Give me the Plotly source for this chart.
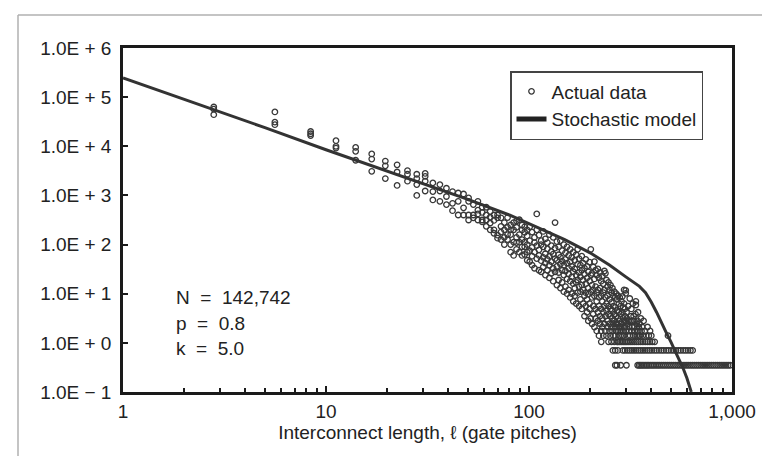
import plotly.graph_objects as go

FONT = "Liberation Sans, Arial, Helvetica, sans-serif"
FS = 19

# ---- Stochastic model curve ----
model_x = [1, 2, 3, 5, 10, 20, 30, 50, 80, 100, 150, 200, 250, 300, 350, 375, 400,
           425, 450, 475, 500, 525, 550, 575, 600, 615, 630]
model_y = [2.45e5, 9.1e4, 5.0e4, 2.4e4, 8.5e3, 3.1e3, 1.74e3, 830, 400, 263, 126, 68, 38,
           22, 14.1, 10.5, 6.8, 4.2, 2.5, 1.6, 1.05, 0.69, 0.47, 0.30, 0.19, 0.14, 0.1]

# ---- Actual data, short lengths: one column per length, several counts each ----
short_x = [2.8, 5.6, 8.4, 11.2, 14.0, 16.8, 19.6, 22.4, 25.2, 28.0, 30.8, 33.6, 36.4,
           39.2, 42.0, 44.8, 47.6, 50.4, 53.2, 56.0, 58.8, 61.6, 64.4, 67.2, 70.0, 72.8,
           75.6, 78.4, 81.2, 84.0, 86.8, 89.6, 92.4, 95.2, 98.0]
short_y = [
    [63000, 57000, 44000], [50000, 31000, 27500], [20000, 18000, 16500],
    [13000, 10000, 9200], [9500, 7900, 5200], [7000, 5500, 3100], [5000, 4000, 2200],
    [4200, 3000, 1600], [3200, 2700, 1950], [2700, 2200, 1660, 1000],
    [2800, 2450, 1950, 1230], [1800, 1200, 810], [1660, 1230, 760], [1400, 950, 650],
    [1200, 690, 490], [1120, 760, 400], [1070, 560, 400], [890, 760, 400, 316],
    [650, 400, 350], [760, 500, 420, 316], [575, 450, 316, 290], [575, 400, 316, 235],
    [470, 360, 275, 200], [400, 310, 200, 170], [400, 350, 155, 135],
    [350, 235, 180, 126], [280, 200, 140, 100], [355, 225, 160, 126],
    [250, 200, 160, 100, 70], [280, 200, 112, 60], [300, 225, 140, 110, 80],
    [320, 160, 112, 70], [250, 200, 126, 90, 60], [230, 178, 112, 90, 63],
    [200, 150, 100, 70, 48],
]

# ---- Actual data, mid lengths (dense cloud) ----
mid_x = [100.8, 103.6, 106.4, 109.2, 112.0, 114.8, 117.6, 120.4, 123.2, 126.0, 128.8,
         131.6, 134.4, 137.2, 140.0, 142.8, 145.6, 148.4, 151.2, 154.0, 156.8, 159.6,
         162.4, 165.2, 168.0, 170.8, 173.6, 176.4, 179.2, 182.0, 184.8, 187.6, 190.4,
         193.2, 196.0, 198.8, 201.6, 204.4, 207.2, 210.0, 212.8, 215.6, 218.4, 221.2,
         224.0, 226.8, 229.6, 232.4, 235.2, 238.0, 240.8, 243.6, 246.4, 249.2, 252.0,
         254.8, 257.6, 260.4, 263.2, 266.0, 268.8, 271.6, 274.4, 277.2, 280.0, 282.8,
         285.6, 288.4, 291.2, 294.0, 296.8, 299.6]
mid_y = [
    [230, 120, 75, 45], [180, 88, 58, 38], [140, 110, 70, 33], [420, 200, 95, 52],
    [155, 78, 60, 30], [120, 100, 47, 28], [185, 90, 55, 35], [130, 65, 42, 24],
    [110, 82, 50, 30], [160, 58, 38, 21], [95, 72, 45, 26], [140, 64, 33, 18],
    [280, 85, 52, 28], [115, 48, 36, 15], [90, 62, 27, 19], [120, 55, 40, 13],
    [75, 46, 30, 17], [100, 38, 24, 11], [68, 50, 29, 14], [90, 42, 20, 10],
    [60, 33, 25, 12], [80, 45, 18, 8.4], [55, 36, 22, 10], [70, 28, 16, 7.0],
    [48, 32, 13, 9.1], [62, 24, 17, 6.3], [80, 40, 19, 10.5], [52, 27, 14, 5.6],
    [38, 22, 11, 7.7], [58, 30, 15, 4.9], [42, 19, 12, 6.3], [33, 25, 9.1, 3.5],
    [50, 16, 10.5, 5.6], [36, 21, 7.7, 4.2], [28, 13, 9.8, 2.8], [44, 18, 6.3, 4.9],
    [80, 24, 11, 3.15], [26, 15, 8.4, 2.45], [35, 12, 5.6, 3.85], [45, 20, 9.1, 2.1],
    [30, 14, 4.9, 3.15], [24, 10.5, 7.0, 1.75], [32, 12, 4.2, 2.8], [21, 8.4, 5.6, 1.4],
    [27, 13, 3.5, 2.45], [18, 9.1, 4.9, 1.75], [23, 7.0, 3.15, 2.1], [16, 10.5, 4.2, 1.4],
    [29, 12, 5.6, 2.45], [26, 8.4, 3.5, 1.75], [19, 6.3, 4.55, 1.4], [14, 9.1, 2.8, 2.1],
    [17, 5.6, 3.85, 1.05], [12, 7.7, 2.45, 1.75], [15, 4.9, 3.5, 1.4],
    [10.5, 6.65, 2.1, 1.05], [13, 4.55, 3.15, 1.75], [9.1, 5.6, 2.45, 1.4],
    [11, 3.85, 2.8, 1.05], [8.4, 5.25, 2.1, 1.4], [10, 3.5, 2.45, 1.75],
    [7.7, 4.55, 2.45, 1.05], [9.1, 3.15, 1.75, 1.05], [6.3, 4.2, 2.1, 1.4],
    [8.4, 2.8, 1.75, 1.05], [5.6, 3.85, 2.1, 1.4], [7.0, 2.45, 1.75, 1.05],
    [8.8, 4.2, 2.1, 1.4], [5.25, 3.15, 1.75, 1.05], [12, 6.3, 2.8, 1.4],
    [4.9, 3.5, 2.1, 1.05], [11.7, 10.2, 2.8, 1.75],
]

# ---- Actual data, long lengths (sparse tail) ----
tail_x = [302.4, 303.8, 305.2, 306.6, 308.0, 309.4, 310.8, 312.2, 313.6, 315.0, 316.4,
          317.8, 319.2, 320.6, 322.0, 323.4, 324.8, 326.2, 327.6, 329.0, 330.4, 331.8,
          333.2, 334.6, 336.0, 336.0, 338.8, 340.2, 341.6, 343.0, 344.4, 345.8, 347.2,
          348.6, 350.0, 352.8, 355.6, 358.4, 361.2, 364.0, 366.8, 372.4, 378.0, 383.6,
          389.2, 394.8, 400.4, 484.0]
tail_y = [4.2, 3.15, 2.45, 1.4, 5.6, 2.8, 1.75, 2.1, 8.0, 1.4, 2.8, 3.5, 4.9, 1.75,
          2.1, 2.8, 6.3, 1.4, 3.5, 2.1, 2.8, 1.75, 1.4, 3.85, 7.0, 5.9, 2.45, 1.4, 1.75,
          2.8, 4.2, 1.75, 2.1, 1.4, 2.45, 1.4, 3.15, 1.75, 2.1, 1.4, 2.8, 1.75, 1.4, 2.1,
          1.4, 1.75, 1.4, 1.4]

# ---- Actual data: quantised low-count rows ----
row_035_x = [266, 271, 283, 302, 343, 349, 355, 361, 368, 375, 382, 389, 397, 405, 413,
             422, 431, 440, 450, 460, 470, 481, 492, 503, 515, 527, 540, 553, 566, 580,
             594, 608, 623, 638, 653, 669, 685, 702, 719, 736, 754, 772, 791, 810, 830,
             850, 871, 892, 913, 935, 957, 980]
row_070_x = [259, 266, 274, 290, 297, 305, 313, 321, 329, 337, 346, 355, 364, 373, 383,
             393, 403, 414, 425, 437, 449, 461, 474, 487, 501, 515, 529, 544, 559, 575,
             591, 607, 624, 640]
row_105_x = [227, 302, 308, 315, 322, 330, 338, 346, 355, 364, 374, 384, 394, 405, 416]
row_levels = [0.35, 0.70, 1.05]

assert len(short_x) == len(short_y) and len(mid_x) == len(mid_y)
assert len(tail_x) == len(tail_y)

all_x, all_y = [], []
for xs, ys in ((short_x, short_y), (mid_x, mid_y)):
    for xv, col in zip(xs, ys):
        all_x += [xv] * len(col)
        all_y += col
all_x += tail_x
all_y += tail_y
for rx, lvl in zip((row_035_x, row_070_x, row_105_x), row_levels):
    all_x += rx
    all_y += [lvl] * len(rx)

y_tickvals = [0.1, 1, 10, 100, 1e3, 1e4, 1e5, 1e6]
y_ticktext = ["1.0E \u2212 1", "1.0E + 0", "1.0E + 1", "1.0E + 2", "1.0E + 3",
              "1.0E + 4", "1.0E + 5", "1.0E + 6"]
x_tickvals = [1, 10, 100, 1000]
x_ticktext = ["1", "10", "100", "1,000"]
x_minor = [2, 3, 4, 5, 6, 7, 8, 9, 20, 30, 40, 50, 60, 70, 80, 90,
           200, 300, 400, 500, 600, 700, 800, 900]

fig = go.Figure()
fig.add_trace(go.Scatter(
    x=all_x, y=all_y, mode="markers", name="Actual data",
    marker=dict(symbol="circle-open", size=5.5, color="#383838",
                line=dict(width=1.3, color="#383838")),
))
fig.add_trace(go.Scatter(
    x=model_x, y=model_y, mode="lines", name="Stochastic model", showlegend=False,
    line=dict(color="#333333", width=3),
))
# legend entry for the model (thicker sample line, as in the original key)
fig.add_trace(go.Scatter(
    x=[None], y=[None], mode="lines", name="Stochastic model",
    line=dict(color="#222222", width=5),
))

W, H = 770, 456
L, R, T, B = 115, 46, 40, 72
pw, ph = W - L - R, H - T - B


def px_x(p):
    return (p - L) / pw


def px_y(p):
    return (H - B - p) / ph


fig.update_layout(
    width=W, height=H,
    margin=dict(l=L, r=R, t=T, b=B),
    paper_bgcolor="white", plot_bgcolor="white",
    font=dict(family=FONT, size=FS, color="#222222"),
    showlegend=True,
    legend=dict(x=px_x(502), y=px_y(63), xanchor="left", yanchor="top",
                bordercolor="#444444", borderwidth=1.5, bgcolor="white",
                font=dict(family=FONT, size=FS, color="#222222"),
                tracegroupgap=4),
    xaxis=dict(type="log", range=[0, 3], tickmode="array", tickvals=x_tickvals,
               ticktext=x_ticktext, ticks="inside", ticklen=6, tickwidth=2,
               tickcolor="#1a1a1a", showline=True, linewidth=2.5, linecolor="#1a1a1a",
               mirror=True, showgrid=False, zeroline=False,
               minor=dict(tickmode="array", tickvals=x_minor, ticks="inside",
                          ticklen=4, tickwidth=2, tickcolor="#1a1a1a", showgrid=False),
               title=dict(text="Interconnect length, \u2113 (gate pitches)",
                          font=dict(family=FONT, size=FS, color="#222222"), standoff=0)),
    yaxis=dict(type="log", range=[-1, 6], tickmode="array", tickvals=y_tickvals,
               ticktext=y_ticktext, ticks="inside", ticklen=5, tickwidth=2,
               tickcolor="#1a1a1a", showline=True, linewidth=2.5, linecolor="#1a1a1a",
               mirror=True, showgrid=False, zeroline=False, ticklabelstandoff=5),
    shapes=[
        dict(type="line", xref="paper", yref="paper", x0=px_x(10), x1=px_x(772),
             y0=px_y(7), y1=px_y(7), line=dict(color="#b0b0b0", width=1.5)),
        dict(type="line", xref="paper", yref="paper", x0=px_x(10), x1=px_x(10),
             y0=px_y(7), y1=px_y(470), line=dict(color="#b0b0b0", width=1.5)),
    ],
    annotations=[
        dict(text=t, x=px_x(166), y=px_y(yy), xref="paper", yref="paper",
             xanchor="left", yanchor="middle", showarrow=False,
             font=dict(family=FONT, size=FS, color="#222222"))
        for t, yy in [("N\u00a0 =\u00a0 142,742", 289), ("p\u00a0 =\u00a0 0.8", 315),
                      ("k\u00a0 =\u00a0 5.0", 340)]
    ],
)

fig.write_html("out.html")
